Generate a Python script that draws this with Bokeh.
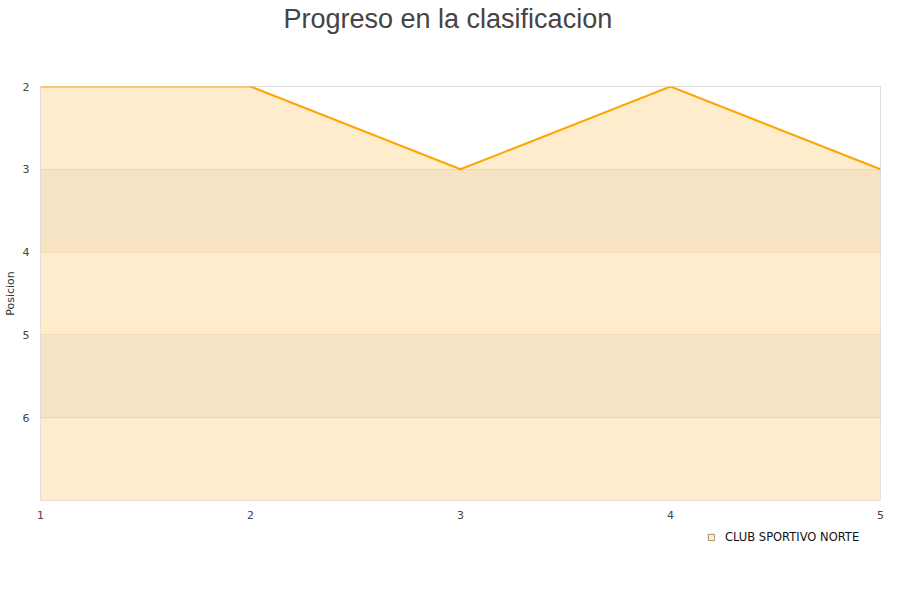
from bokeh.plotting import figure
from bokeh.models import Range1d, FixedTicker, Legend, LegendItem, ColumnDataSource, Title
from bokeh.layouts import column
from bokeh.embed import file_html
from bokeh.resources import INLINE

jornadas = [1, 2, 3, 4, 5]
posiciones = [2, 2, 3, 2, 3]
y_ticks = [2, 3, 4, 5, 6]
y_bottom = 7
team = "CLUB SPORTIVO NORTE"
title_text = "Progreso en la clasificacion"

src = ColumnDataSource(dict(x=jornadas, y=posiciones, base=[y_bottom] * len(jornadas)))

p = figure(frame_width=840, frame_height=414, output_backend="svg", toolbar_location=None,
           x_range=Range1d(jornadas[0], jornadas[-1]), y_range=Range1d(y_bottom, 2),
           min_border_left=32, min_border_right=12, min_border_top=86, min_border_bottom=24,
           title=title_text)

p.title.text_font = "Liberation Sans"
p.title.text_font_size = "27px"
p.title.text_font_style = "normal"
p.title.text_color = "#444444"
p.title.align = "left"
p.title.offset = 243
p.title.standoff = 0

spacer = Title(text=" ", text_font_size="10px", standoff=40)
p.add_layout(spacer, "above")

p.outline_line_color = "#dddddd"
p.outline_line_width = 1

p.varea(x="x", y1="y", y2="base", source=src, fill_color="#FFECCC")
p.line(x="x", y="y", source=src, line_color="#FFA500", line_width=2)

p.xaxis.ticker = FixedTicker(ticks=jornadas)
p.yaxis.ticker = FixedTicker(ticks=y_ticks)
for ax in (p.xaxis[0], p.yaxis[0]):
    ax.axis_line_color = None
    ax.major_tick_line_color = None
    ax.minor_tick_line_color = None
    ax.major_label_text_font = "DejaVu Sans"
    ax.major_label_text_font_size = "11px"
    ax.major_label_text_color = "#444444"
p.xaxis.major_label_standoff = 4
p.yaxis.major_label_standoff = 5
p.yaxis.axis_label = "Posicion"
p.yaxis.axis_label_text_font = "DejaVu Sans"
p.yaxis.axis_label_text_font_size = "11px"
p.yaxis.axis_label_text_font_style = "normal"
p.yaxis.axis_label_text_color = "#333333"
p.yaxis.axis_label_standoff = 3

p.xgrid.grid_line_color = None
p.ygrid.grid_line_color = "#b08840"
p.ygrid.grid_line_alpha = 0.15
p.ygrid.band_fill_color = "#000000"
p.ygrid.band_fill_alpha = 0.035
p.ygrid.level = "annotation"

# legend strip below the chart
p2 = figure(frame_width=884, frame_height=40, output_backend="svg", toolbar_location=None,
            x_range=Range1d(0, 1), y_range=Range1d(0, 1),
            min_border_left=0, min_border_right=0, min_border_top=0, min_border_bottom=0)
p2.axis.visible = False
p2.grid.visible = False
p2.outline_line_color = None
swatch_src = ColumnDataSource(dict(l=[2], r=[3], t=[2], b=[3], team=[team]))
swatch = p2.quad(left="l", right="r", top="t", bottom="b", source=swatch_src,
                 fill_color="#FFECCC", line_color="#a08a60")
legend = Legend(items=[LegendItem(label=team, renderers=[swatch])], location=(707, 20),
                orientation="horizontal", border_line_color=None, background_fill_alpha=0,
                glyph_width=8, glyph_height=8, label_text_font="DejaVu Sans",
                label_text_font_size="11.5px", label_text_color="#111111",
                label_standoff=10, padding=4, margin=0, spacing=0)
p2.add_layout(legend, "center")

layout = column(p, p2, spacing=0)
open("out.html", "w").write(file_html(layout, INLINE))
